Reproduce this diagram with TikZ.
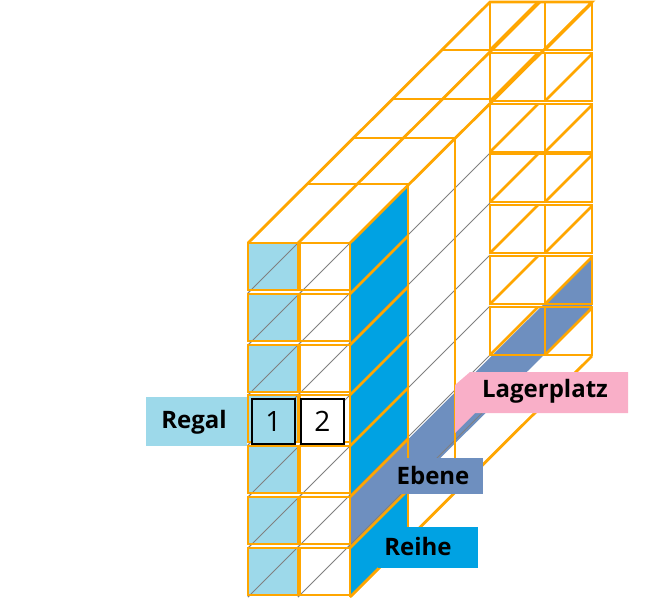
\documentclass[tikz,border=0pt]{standalone}
\usepackage{fontspec}
\setmainfont{Open Sans}
\begin{document}
\begin{tikzpicture}[x=1pt,y=-1pt,
  org/.style={draw={rgb,255:red,255;green,166;blue,0},line width=2.8pt},
  thin/.style={draw=gray,line width=1pt},
  lbl/.style={inner sep=0pt,font=\bfseries\fontsize{24}{28}\selectfont,text=black}]
\definecolor{lb}{HTML}{9DD9EA}
\definecolor{db}{HTML}{00A2E3}
\definecolor{sl}{HTML}{6E8FBF}
\definecolor{pk}{HTML}{F9AFC8}
\useasboundingbox (0,0) rectangle (650,600);
% side faces
\fill[db] (350,243) -- (408,185) -- (408,539) -- (350,597) -- cycle;
\fill[sl] (350,497) -- (592,256) -- (592,307) -- (350,548) -- cycle;
% gray depth lines
\foreach \Y in {395,445,497,548,597} \draw[thin] (248,\Y) -- (490,\Y-242);
\draw[thin] (248,293) -- (298,243);
\draw[thin] (248,345) -- (350,243);
\draw[thin] (298,597) -- (490,405);
\draw[thin] (350,597) -- (408,539);
% orange side lines on blue face
\foreach \Y in {294,345,395,446,497,548} \draw[org] (350,\Y) -- (408,\Y-58);
% top face
\draw[org] (248,243) -- (490,2) -- (592,2) -- (350,243);
\draw[org] (298,243) -- (540,2);
\foreach \d in {59,105,144,193} \draw[org] (248+\d,243-\d) -- (350+\d,243-\d);
% back face
\foreach \t in {2,53,104,154,205,256,307} {
  \draw[org] (490,\t) rectangle (545,\t+48);
  \draw[org] (545,\t) rectangle (592,\t+48);
  \draw[org] (490,\t+48) -- (538,\t);
  \draw[org] (545,\t+48) -- (592,\t+1);
}
% verticals and bottom edge
\draw[org] (408,185) -- (408,539);
\draw[org] (455,138) -- (455,492);
\draw[org] (350,597) -- (592,356);
\draw[org] (350,243) -- (350,597);
% front cells
\foreach \t in {243,294,345,395,446,497,548} {
  \fill[lb] (248,\t) rectangle (298,\t+47);
  \fill[white] (300,\t) rectangle (350,\t+47);
}
\foreach \Y in {395,445,497,548,597} \draw[thin] (248,\Y) -- (350,\Y-102);
\draw[thin] (248,293) -- (298,243);
\draw[thin] (248,345) -- (350,243);
\draw[thin] (298,597) -- (350,545);
\foreach \t in {243,294,345,395,446,497,548} {
  \draw[org] (248,\t) rectangle (298,\t+47);
  \draw[org] (300,\t) rectangle (350,\t+47);
}
% labels
\node[fill=lb,minimum width=101pt,minimum height=49pt,anchor=north west,inner sep=0pt] (regalbox) at (146,397) {};
\node[lbl] (regal) at (194,422) {Regal};
\node[draw=black,line width=2pt,fill=lb,minimum width=43pt,minimum height=45pt,inner sep=0pt,font=\fontsize{28}{30}\selectfont] (one) at (273.5,421) {1};
\node[draw=black,line width=2pt,fill=white,minimum width=43pt,minimum height=45pt,inner sep=0pt,font=\fontsize{28}{30}\selectfont] (two) at (322.5,421) {2};
\fill[pk] (455,433) -- (455,385) -- (470,372) -- (628,372) -- (628,413) -- (475,413) -- cycle;
\node[lbl] (lager) at (545,391) {Lagerplatz};
\node[fill=sl,minimum width=91pt,minimum height=36pt,inner sep=0pt] (ebenebox) at (437,476) {};
\node[lbl] (ebene) at (433,475) {Ebene};
\node[fill=db,minimum width=100pt,minimum height=41pt,inner sep=0pt] (reihebox) at (427.5,547.5) {};
\node[lbl] (reihe) at (418,546) {Reihe};
\end{tikzpicture}
\end{document}
